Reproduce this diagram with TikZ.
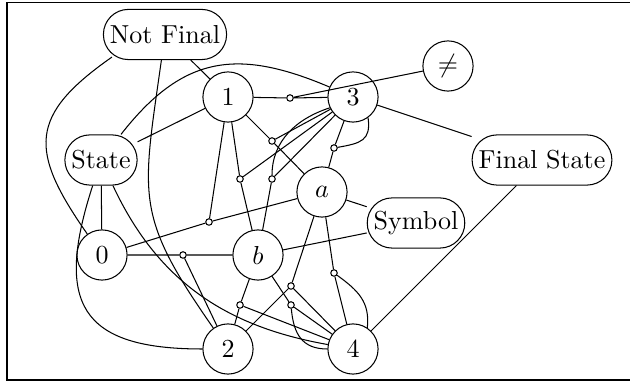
\documentclass[tikz,border=0pt]{standalone}
\begin{document}
\begin{tikzpicture}[x=0.3846pt,y=0.3846pt,
  st/.style={circle,draw,minimum size=19.3pt,inner sep=0pt},
  rr/.style={rectangle,draw,rounded corners=9.6pt,minimum height=19.3pt,inner xsep=2.5pt,inner ysep=0pt},
  jn/.style={circle,draw,fill=white,inner sep=0pt,minimum size=2.5pt}]
\useasboundingbox (0,0) rectangle (630,-381);
\draw[line width=0.65pt] (6.7,-2.5) rectangle (632,-380);
% main nodes
\node[rr] (NF) at (165,-34.5) {Not Final};
\node[rr] (S) at (101,-160) {State};
\node[rr] (FS) at (542,-160) {Final State};
\node[rr] (Sy) at (416,-223) {Symbol};
\node[st] (n0) at (102,-255) {0};
\node[st] (n1) at (228,-97) {1};
\node[st] (n2) at (228,-349) {2};
\node[st] (n3) at (353,-97) {3};
\node[st] (n4) at (353,-349) {4};
\node[st] (ne) at (448,-66) {$\neq$};
\node[st] (na) at (322,-192) {$a$};
\node[st] (nb) at (258,-255) {$b$};
\coordinate (NFc) at ([shift={(9,3)}]NF.south west);
% junctions
\node[jn] (j13) at (290,-98) {};
\node[jn] (j1a3) at (272,-141) {};
\node[jn] (j1b3) at (240,-179) {};
\node[jn] (j33b) at (272,-179) {};
\node[jn] (j33a) at (334,-148) {};
\node[jn] (j01a) at (209,-222) {};
\node[jn] (j0b2) at (183,-255) {};
\node[jn] (jb24) at (240,-305) {};
\node[jn] (ja24) at (291,-286) {};
\node[jn] (jb44) at (291,-305) {};
\node[jn] (ja44) at (334,-273) {};
% plain edges
\draw (NF) -- (n1);
\draw (NFc) to[out=215,in=125,looseness=1.46] (n0);
\draw (NF) to[out=-98,in=125,looseness=1.3] (n2);
\draw (S) -- (n1);
\draw (S) to[out=52,in=157,looseness=1.2] (n3);
\draw (S) -- (n0);
\draw (S) to[out=-108,in=180,looseness=1.6] (n2);
\draw (S) to[out=-65,in=170] (n4);
\draw (n3) -- (FS);
\draw (FS) -- (n4);
\draw (na) -- (Sy);
\draw (nb) -- (Sy);
% hyperedges
\draw (j13) -- (n1) (j13) -- (n3) (j13) -- (ne);
\draw (j1a3) -- (n1) (j1a3) -- (na) (j1a3) -- (n3);
\draw (j1b3) -- (n1) (j1b3) -- (nb) (j1b3) -- (n3);
\draw (j33b) -- (n3) (j33b) -- (nb);
\draw (n3.205) to[out=198,in=90] (j33b);
\draw (j33a) -- (n3) (j33a) -- (na);
\draw (n3.-54) to[out=-82,in=10,looseness=1.4] (j33a);
\draw (j01a) -- (n0) (j01a) -- (n1) (j01a) -- (na);
\draw (j0b2) -- (n0) (j0b2) -- (nb) (j0b2) -- (n2);
\draw (jb24) -- (nb) (jb24) -- (n2) (jb24) -- (n4);
\draw (ja24) -- (na) (ja24) -- (n2) (ja24) -- (n4);
\draw (jb44) -- (nb) (jb44) -- (n4);
\draw (jb44) to[out=-85,in=180,looseness=1.2] (n4);
\draw (ja44) -- (na) (ja44) -- (n4);
\draw (ja44) to[out=-36,in=84,looseness=1.1] (n4.56);
\end{tikzpicture}
\end{document}
